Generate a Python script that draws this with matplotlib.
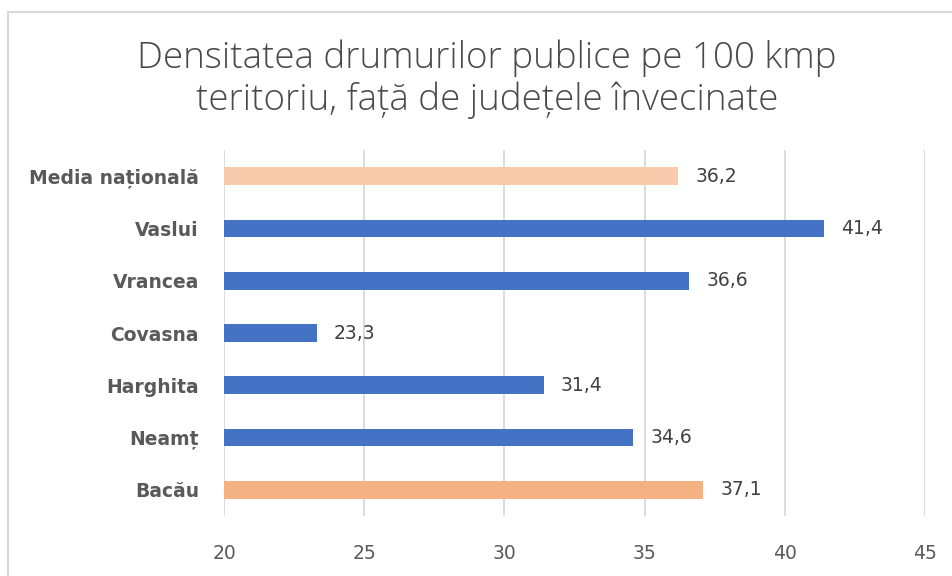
import matplotlib.pyplot as plt
from matplotlib.patches import Rectangle

# Date
judete = ['Bacău', 'Neamț', 'Harghita', 'Covasna', 'Vrancea', 'Vaslui', 'Media națională']
densitate = [37.1, 34.6, 31.4, 23.3, 36.6, 41.4, 36.2]
culori = ['#F4B183', '#4472C4', '#4472C4', '#4472C4', '#4472C4', '#4472C4', '#F8CBAD']
ticks_x = [20, 25, 30, 35, 40, 45]

fig = plt.figure(figsize=(9.53, 5.76), dpi=100)

# chenarul graficului
fig.patches.append(Rectangle((8 / 953, -0.05), 1.1, 1 - 12 / 576 + 0.05,
                             transform=fig.transFigure, fill=False,
                             edgecolor='#D9D9D9', linewidth=1.5))

ax = fig.add_axes([224 / 953, 1 - 516 / 576, 701 / 953, 366 / 576])

y = range(len(judete))
ax.barh(y, [d - 20 for d in densitate], left=20, height=0.34, color=culori, zorder=3)

for i, d in enumerate(densitate):
    ax.text(d + 0.62, i, f"{d:.1f}".replace('.', ','), va='center', ha='left',
            fontsize=13.5, color='#404040')

ax.set_xlim(20, 45)
ax.set_ylim(-0.5, len(judete) - 0.5)
ax.set_xticks(ticks_x)
ax.set_xticklabels([str(t) for t in ticks_x], fontsize=13.5, color='#595959')
ax.set_yticks(list(y))
ax.set_yticklabels(judete, fontsize=13.5, fontweight='bold', color='#595959')
ax.tick_params(axis='both', length=0)
ax.tick_params(axis='x', pad=20)
ax.tick_params(axis='y', pad=18)
ax.grid(axis='x', color='#D9D9D9', linewidth=1.3, zorder=0)
for s in ax.spines.values():
    s.set_visible(False)

fig.text(487 / 953, 1 - 79 / 576,
         'Densitatea drumurilor publice pe 100 kmp\nteritoriu, față de județele învecinate',
         ha='center', va='center', fontsize=26.5, color='#4a4a4a',
         family='Open Sans', fontweight='light', linespacing=1.15)

plt.savefig('out.png', dpi=100)
plt.close()
